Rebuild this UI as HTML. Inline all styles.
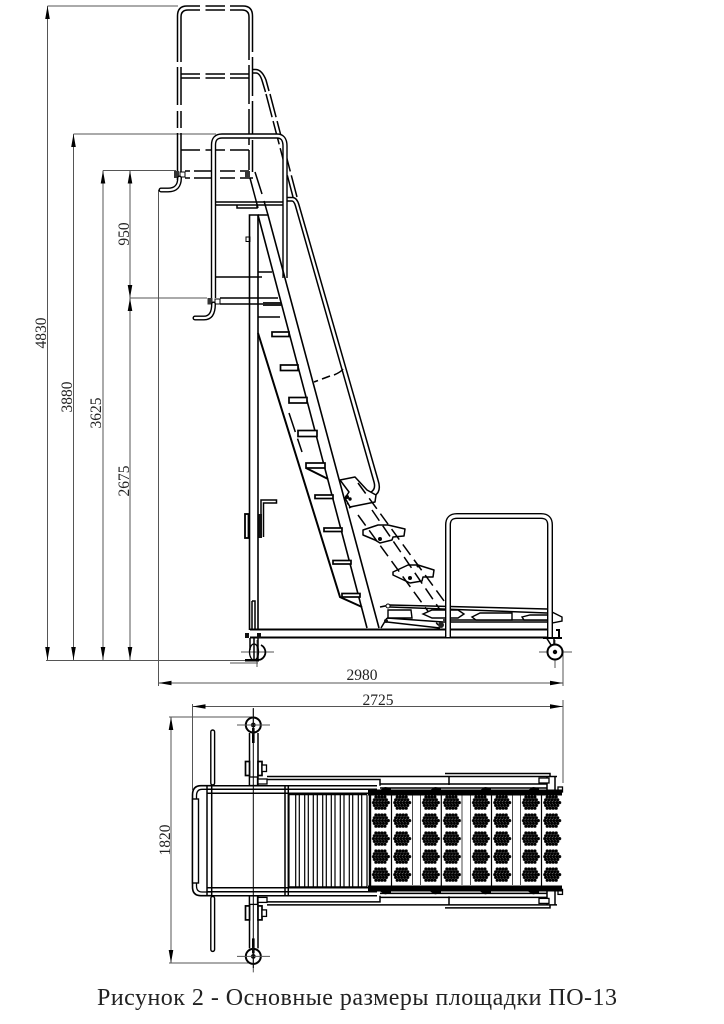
<!DOCTYPE html>
<html><head><meta charset="utf-8"><style>
html,body{margin:0;padding:0;background:#fff}
svg{display:block}
text{font-family:"Liberation Serif","Noto Serif CJK SC",serif;fill:#222}
.d{stroke:#555;stroke-width:1;fill:none}
.l{stroke:#000;stroke-width:1.6;fill:none}
.t{stroke:#000;stroke-width:1.5;fill:none}
.s{stroke:#000;stroke-width:2;fill:none}
</style></head><body>
<svg width="724" height="1024" viewBox="0 0 724 1024" xmlns="http://www.w3.org/2000/svg">
<defs>
<pattern id="p" x="0" y="0" width="1" height="0.2" patternUnits="objectBoundingBox" patternContentUnits="userSpaceOnUse">
<g fill="#000">
<circle cx="4.2" cy="2" r="1.6"/><circle cx="7.2" cy="2" r="1.6"/><circle cx="10.2" cy="2" r="1.6"/><circle cx="13.2" cy="2" r="1.6"/>
<circle cx="2.7" cy="4.8" r="1.6"/><circle cx="5.7" cy="4.8" r="1.6"/><circle cx="8.7" cy="4.8" r="1.6"/><circle cx="11.7" cy="4.8" r="1.6"/><circle cx="14.7" cy="4.8" r="1.6"/>
<circle cx="1.8" cy="7.6" r="1.6"/><circle cx="4.8" cy="7.6" r="1.6"/><circle cx="7.8" cy="7.6" r="1.6"/><circle cx="10.8" cy="7.6" r="1.6"/><circle cx="13.8" cy="7.6" r="1.6"/><circle cx="16.6" cy="7.6" r="1.6"/>
<circle cx="2.7" cy="10.4" r="1.6"/><circle cx="5.7" cy="10.4" r="1.6"/><circle cx="8.7" cy="10.4" r="1.6"/><circle cx="11.7" cy="10.4" r="1.6"/><circle cx="14.7" cy="10.4" r="1.6"/>
<circle cx="4.2" cy="13.2" r="1.6"/><circle cx="7.2" cy="13.2" r="1.6"/><circle cx="10.2" cy="13.2" r="1.6"/><circle cx="13.2" cy="13.2" r="1.6"/>
</g></pattern>
<g id="half">
<path class="t" d="M267 776.5H557M267 779.5H380V785.7M445 773.5H550V776.5M380 784H547M380 788H547"/>
<path class="t" d="M249.5 785V733M258 785V733"/>
<rect x="245.5" y="761.5" width="4" height="14" fill="#fff" stroke="#000" stroke-width="1.7"/>
<rect x="258" y="761.5" width="4" height="14" fill="#fff" stroke="#000" stroke-width="1.7"/>
<rect x="262" y="765" width="4.5" height="6.5" fill="#fff" stroke="#000" stroke-width="1.3"/>
<rect x="249.5" y="777" width="8" height="8.5" fill="#fff" stroke="#000" stroke-width="1.3"/>
<rect x="258" y="779" width="9" height="5" fill="#fff" stroke="#000" stroke-width="1.3"/>
<circle cx="253.3" cy="725" r="7.5" fill="#fff" stroke="#000" stroke-width="2"/>
<circle cx="253.3" cy="725" r="2.4" fill="#000"/>
<path d="M253.3 728V743" stroke="#000" stroke-width="2.6"/>
<path class="d" d="M237 725H270M253.3 709V735"/>
<rect x="210.8" y="730" width="3.8" height="55" rx="1.9" fill="#fff" stroke="#000" stroke-width="1.4"/>
<rect x="370" y="790" width="192" height="5" fill="#000"/>
<path d="M380 790l5-3 6 1v3zM430 790l5-3 6 1v3zM480 790l5-3 6 1v3zM528 790l5-3 6 1v3z" fill="#000"/>
<path class="t" d="M547 776.5V795M555 776.5V795M449 776v9"/>
<rect x="539" y="778" width="10" height="5" fill="#fff" stroke="#000" stroke-width="1.3"/>
<rect x="558" y="787" width="4.5" height="5" fill="#fff" stroke="#000" stroke-width="1.3"/>
</g>
</defs>

<!-- dimension lines -->
<path class="d" d="M47.5 6H178M73.5 134H216M103 170.5H176M158.5 190V686M130 170.5H176M130 298H207M46 660.5H250M47.5 6V660M73.5 134V660M103 170.5V660M130 170.5V660M158.5 683H563M563 650V686M192.5 706.5H563M192.5 704V790M563 700V783M171 717V963M169 717H252M169 963H252"/>
<g fill="#000">
<path d="M47.5 6l-2.3 13h4.6zM73.5 134l-2.3 13h4.6zM103 170.5l-2.3 13h4.6zM130 170.5l-2.3 13h4.6zM47.5 660l-2.3-13h4.6zM73.5 660l-2.3-13h4.6zM103 660l-2.3-13h4.6zM130 660l-2.3-13h4.6zM130 298l-2.3-13h4.6zM130 298l-2.3 13h4.6z"/>
<path d="M158.5 683l13-2.3v4.6zM563 683l-13-2.3v4.6zM192.5 706.5l13-2.3v4.6zM563 706.5l-13-2.3v4.6zM171 717l-2.3 13h4.6zM171 963l-2.3-13h4.6z"/>
</g>
<g font-size="15.5">
<text transform="translate(46,333) rotate(-90)" text-anchor="middle">4830</text>
<text transform="translate(72,397) rotate(-90)" text-anchor="middle">3880</text>
<text transform="translate(101,413) rotate(-90)" text-anchor="middle">3625</text>
<text transform="translate(129,481) rotate(-90)" text-anchor="middle">2675</text>
<text transform="translate(129,234) rotate(-90)" text-anchor="middle">950</text>
<text x="362" y="680" text-anchor="middle">2980</text>
<text x="378" y="705" text-anchor="middle">2725</text>
<text transform="translate(170,840) rotate(-90)" text-anchor="middle">1820</text>
</g>

<!-- upper dashed rail -->
<g class="t">
<path d="M177.5 62V16Q177.5 6 187 6"/><path d="M181 62V17Q181 10 188 10"/>
<path d="M177.5 67V105M177.5 111V128M177.5 133V180M181 67V105M181 111V128M181 133V178"/>
<path d="M252.5 52V16Q252.5 6 243 6"/><path d="M249 60V17Q249 10 242 10"/>
<path d="M252.5 57V96M252.5 101V135M252.5 140V172M249 65V104M249 109V145M249 150V170"/>
</g>
<path class="t" d="M187 6H200M205.5 6H225M230 6H243M188 10H200M205.5 10H225M230 10H242"/>
<path class="t" d="M181 74H200M205.5 74H225M230 74H249M181 78H200M205.5 78H225M230 78H249"/>
<path class="t" d="M181 150H200M205.5 150H225M230 150H249"/>
<path class="t" d="M185 171H190M194 171H215M220 171H235M240 171H249M185 178H190M194 178H215M220 178H235M240 178H253"/>
<rect x="174" y="171" width="5" height="7" fill="#333"/><rect x="180" y="172" width="5" height="5" fill="#fff" stroke="#000"/>
<rect x="245" y="171" width="5" height="7" fill="#333"/>
<path d="M179.5 178Q179.5 190 168 190H161" fill="none" stroke="#000" stroke-width="5" stroke-linecap="round"/>
<path d="M179.5 178Q179.5 190 168 190H161" fill="none" stroke="#fff" stroke-width="2.2" stroke-linecap="round"/>

<!-- dashed handrail upper -->
<path class="t" d="M253 69.5H256Q262 70 266 80L269 91"/>
<path class="t" d="M253 73H256Q260 73 262.5 82L265.5 92"/>
<path class="t" stroke-dasharray="24 4" d="M270 94L297 197"/>
<path class="t" stroke-dasharray="24 4" d="M266 94L293 197"/>

<!-- middle rail -->
<path d="M213.5 298V145Q213.5 136 222 136H277Q285 136 285 146V278" fill="none" stroke="#000" stroke-width="5.4"/>
<path d="M213.5 298V145Q213.5 136 222 136H277Q285 136 285 146V278" fill="none" stroke="#fff" stroke-width="2.6"/>
<path class="t" d="M216 202H283M216 205H283M237 205H257V208H237V205M216 277H262"/>
<path class="t" d="M220 298H278M220 304H272"/>
<rect x="207.5" y="298" width="5" height="6.5" fill="#333"/><rect x="215" y="299" width="5" height="5" fill="#fff" stroke="#000"/>
<path d="M213.5 304Q213.5 318 204 318H195" fill="none" stroke="#000" stroke-width="5" stroke-linecap="round"/>
<path d="M213.5 304Q213.5 318 204 318H195" fill="none" stroke="#fff" stroke-width="2.2" stroke-linecap="round"/>
<rect x="246" y="237" width="4" height="4.5" fill="#fff" stroke="#000"/>
<path class="t" d="M258 272H272M258 317H280"/>
<rect x="263" y="302" width="18" height="4" fill="#222"/>
<path class="t" d="M250 178L258 208M255 172L262 194M264 201L268 215"/>

<!-- long handrail -->
<path class="t" d="M287 197.5H293Q297 198 299 205L378 480Q382 492 374 496L349 508"/>
<path class="t" d="M287 201H292Q294 201 295.5 206L374 482Q376 489 371 492L347 504"/>
<path class="t" d="M314 382L318 380.5M322 379L330 376M334 375Q341 372 343 369"/>

<!-- ladder: column, stringer -->
<path class="l" d="M249.5 630V215H258V630"/>
<path class="l" d="M258 215H268L379 628M258 215L367 628"/>
<path class="s" d="M258 333L340 597L362 607"/>
<path class="s" d="M306 468L328 479"/>
<path class="t" stroke-dasharray="20 7" d="M289 413L302 452"/>
<!-- steps -->
<g stroke="#000" stroke-width="1.7" fill="#fff">
<rect x="272" y="332" width="17" height="4.5"/>
<rect x="280.5" y="365" width="17.5" height="5.5"/>
<rect x="289" y="397.5" width="18" height="5.5"/>
<rect x="298" y="430.5" width="19" height="6"/>
<rect x="306" y="463" width="19" height="5"/>
<rect x="315" y="495" width="18" height="3.5"/>
<rect x="324" y="528" width="18" height="3.5"/>
<rect x="333" y="560.5" width="18" height="3.5"/>
<rect x="342" y="593.5" width="18" height="3.5"/>
</g>

<!-- lever / clasps -->
<path class="t" d="M261 537V500H276.5V503H263.5V537"/>
<rect x="245" y="514" width="3.5" height="24" fill="#fff" stroke="#000" stroke-width="1.8"/>
<rect x="258.5" y="514" width="3.5" height="24" fill="#111"/>
<path class="t" d="M252 601H255V630M252 601V630"/>

<!-- folded steps -->
<g stroke="#000" stroke-width="1.5" fill="#fff" stroke-linejoin="round">
<path d="M340 480L355 477L367 490L376 495L375 502L360 505L350 507L345 498L349 492Z"/>
<path d="M363 530L378 525L388 525L405 529L404 536L393 537L392 540L380 543L375 540L363 535Z"/>
<path d="M393 572L408 565L418 565L434 570L433 577L423 577L422 581L410 583L393 575Z"/>
</g>
<circle cx="347" cy="497" r="2" fill="#000"/><circle cx="350" cy="499" r="1.7" fill="#000"/><circle cx="380" cy="539" r="2" fill="#000"/><circle cx="410" cy="578" r="2" fill="#000"/><circle cx="418" cy="566" r="1.5" fill="#000"/>
<g class="t" stroke-dasharray="13 6">
<path d="M358 483L447 605"/>
<path d="M372 510L445 617"/>
<path d="M358 515L438 625"/>
</g>
<!-- folded base -->
<path class="t" d="M380 607L390 605L547 609M390 607L547 613M387 618L443 622M387 622L440 628M443 620H547M443 622H547M381 628L387 618"/>
<g stroke="#000" stroke-width="1.4" fill="#fff">
<path d="M388 610H411L412 618H388Z"/><path d="M423 614L432 610H458L464 614L458 618H432Z"/><path d="M472 617L480 613H512V620H476Z"/><path d="M522 617L530 615H550V620H524Z"/>
<path d="M552 612L562 617V621L552 623Z"/>
</g>
<circle cx="388" cy="606" r="2" fill="#fff" stroke="#000"/><circle cx="386" cy="621" r="2" fill="#111"/>
<circle cx="441" cy="625" r="3" fill="#222"/>

<!-- base frame -->
<path class="s" d="M250 629.5H552M250 637.5H552"/>
<rect x="250" y="630.5" width="302" height="6" fill="#fff"/>
<path d="M448 637V525Q448 516 457 516H541Q550 516 550 525V637" fill="none" stroke="#000" stroke-width="6"/>
<path d="M448 637V525Q448 516 457 516H541Q550 516 550 525V637" fill="none" stroke="#fff" stroke-width="3.2"/>

<!-- casters -->
<path class="d" d="M241 652H274M257 640V667M230 663H258"/>
<rect x="245" y="633" width="4" height="5" fill="#111"/><rect x="257" y="633" width="4" height="5" fill="#111"/>
<path class="t" d="M250 638V650M254 638V660M258 638V660"/>
<path d="M261 645A8 8 0 0 1 259 660" fill="none" stroke="#000" stroke-width="1.8"/>
<ellipse cx="254" cy="652" rx="4.5" ry="8" fill="none" stroke="#000" stroke-width="1.3"/>
<rect x="245" y="659" width="14" height="2.5" fill="#000"/>
<path class="d" d="M539 652H572M555 640V668"/>
<circle cx="555" cy="652" r="7.5" fill="#fff" stroke="#000" stroke-width="2"/>
<circle cx="555" cy="652" r="2.2" fill="#000"/>
<path class="t" d="M546 637L551 645M554 637V644"/>
<path d="M556 630H559V638H562" fill="none" stroke="#000" stroke-width="2"/>
<path class="s" d="M543 638H558"/>

<!-- PLAN VIEW -->
<use href="#half"/>
<use href="#half" transform="translate(0 1681.4) scale(1 -1)"/>
<path d="M211 785.7H201Q192.5 785.7 192.5 795V887Q192.5 895.7 201 895.7H211" fill="none" stroke="#000" stroke-width="1.6"/>
<path d="M211 789.3H202Q196.5 789.3 196.5 796V886Q196.5 892 202 892H211" fill="none" stroke="#000" stroke-width="1.3"/>
<rect x="192.5" y="799" width="6" height="84" fill="#fff" stroke="#000" stroke-width="1.4"/>
<path class="t" d="M207 785.7V895.7M211.7 785.7V895.7M285 785.7V895.7M288.3 785.7V895.7"/>
<path class="t" d="M207 785.7H377M207 789.3H377M207 793.3H372M207 887.7H372M207 891.7H377M207 895.7H377"/>
<g stroke="#000" stroke-width="1.2" fill="none">
<path d="M289 794.5V887M295.7 794.5V887M299.3 794.5V887M304.7 794.5V887M308.3 794.5V887M313.3 794.5V887M317.3 794.5V887M322.7 794.5V887M326.3 794.5V887M331.3 794.5V887M335 794.5V887M340.3 794.5V887M344 794.5V887M349.3 794.5V887M352.7 794.5V887M358.3 794.5V887M361.7 794.5V887M367 794.5V887"/>
<path d="M289 794.5H367M289 887H367" stroke-width="1.6"/>
</g>
<path d="M253.3 708V968" stroke="#000" stroke-width="1"/>
<!-- perforated treads -->
<rect x="368" y="790" width="194" height="100" fill="#fff"/>
<rect x="368" y="789.5" width="194" height="6" fill="#000"/>
<rect x="368" y="885.5" width="194" height="6" fill="#000"/>
<g fill="url(#p)">
<rect x="371.7" y="795" width="18.4" height="90"/><rect x="393" y="795" width="18.4" height="90"/>
<rect x="421.7" y="795" width="18.4" height="90"/><rect x="442.7" y="795" width="18.4" height="90"/>
<rect x="471.7" y="795" width="18.4" height="90"/><rect x="493" y="795" width="18.4" height="90"/>
<rect x="521.7" y="795" width="18.4" height="90"/><rect x="543" y="795" width="18.4" height="90"/>
</g>
<path d="M370 790V890" stroke="#000" stroke-width="2.4"/>
<path d="M391.5 790V890M441.3 790V890M491.5 790V890M541.5 790V890" stroke="#000" stroke-width="1.2"/>
<path d="M412.5 795V885M420.5 795V885M462 795V885M470.5 795V885M512.5 795V885M520.5 795V885" stroke="#000" stroke-width=".7"/>

<text x="97" y="1005" font-size="24" textLength="520" lengthAdjust="spacing">Рисунок 2 - Основные размеры площадки ПО-13</text>
</svg>
</body></html>
